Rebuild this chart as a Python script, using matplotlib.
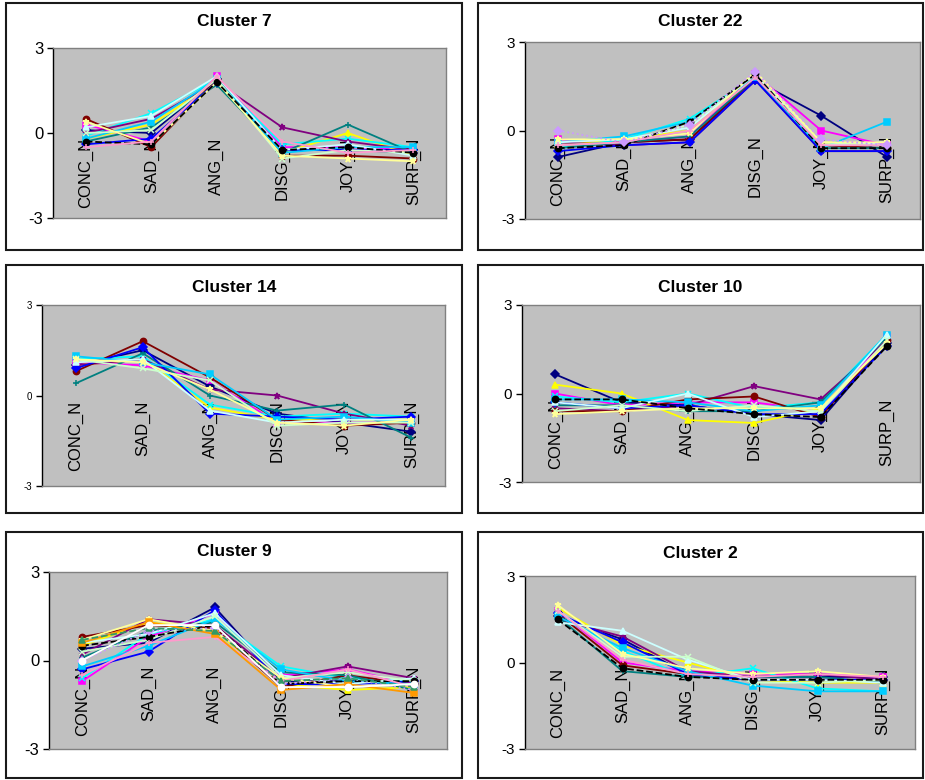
import matplotlib
matplotlib.use("Agg")
import matplotlib.pyplot as plt
from matplotlib.patches import Rectangle
from matplotlib.transforms import ScaledTranslation

plt.rcParams['font.family'] = ['Liberation Sans', 'DejaVu Sans']

categories = ["CONC_N", "SAD_N", "ANG_N", "DISG_N", "JOY_N", "SURP_N"]
titles = ["Cluster 7", "Cluster 22", "Cluster 14", "Cluster 10", "Cluster 9", "Cluster 2"]

# standardised scores, one row per case in the cluster
cluster7 = [
    [0.1, 0.0, 1.9, -0.6, -0.6, -0.7],
    [0.3, -0.3, 2.0, -0.5, -0.5, -0.6],
    [-0.2, 0.3, 1.8, -0.7, 0.0, -0.8],
    [-0.1, 0.7, 1.9, -0.4, -0.2, -0.5],
    [0.0, 0.5, 1.8, 0.2, -0.3, -0.6],
    [0.5, -0.5, 1.9, -0.8, -0.8, -0.9],
    [-0.3, 0.2, 1.7, -0.7, 0.3, -0.7],
    [-0.4, -0.2, 1.8, -0.6, -0.6, -0.6],
    [-0.2, 0.4, 1.9, -0.7, -0.5, -0.5],
    [0.2, 0.6, 2.0, -0.6, -0.4, -0.8],
    [0.0, 0.1, 1.9, -0.9, -0.6, -0.7],
    [0.4, -0.4, 1.8, -0.8, -0.9, -1.0],
    [-0.3, -0.4, 1.8, -0.6, -0.5, -0.7],
    [-0.5, -0.3, 2.0, -0.3, -0.7, -0.6],
]
cluster22 = [
    [-0.9, -0.4, -0.3, 1.7, 0.5, -0.9],
    [-0.3, -0.4, -0.2, 1.9, 0.0, -0.5],
    [-0.5, -0.3, 0.0, 1.8, -0.4, -0.5],
    [-0.6, -0.3, 0.4, 1.8, -0.5, -0.6],
    [-0.4, -0.5, -0.4, 1.7, -0.7, -0.7],
    [-0.5, -0.4, -0.3, 1.8, -0.5, -0.6],
    [-0.6, -0.4, -0.2, 1.8, -0.6, -0.6],
    [-0.7, -0.5, -0.4, 1.7, -0.7, -0.7],
    [-0.4, -0.2, 0.3, 1.8, -0.6, 0.3],
    [-0.4, -0.3, 0.1, 1.9, -0.5, -0.4],
    [-0.5, -0.4, 0.2, 1.9, -0.4, -0.5],
    [-0.3, -0.3, -0.1, 2.0, -0.4, -0.4],
    [-0.6, -0.5, 0.3, 1.9, -0.6, -0.6],
    [-0.5, -0.4, 0.0, 1.8, -0.5, -0.5],
    [0.0, -0.4, 0.2, 2.0, -0.3, -0.5],
]
cluster14 = [
    [1.0, 1.5, 0.3, -0.6, -0.9, -1.2],
    [1.1, 1.0, 0.5, -0.9, -0.9, -0.9],
    [1.0, 1.2, -0.4, -0.8, -0.8, -0.8],
    [1.2, 1.3, -0.3, -0.7, -0.6, -0.7],
    [1.0, 1.2, 0.2, 0.0, -0.6, -1.0],
    [0.8, 1.8, 0.6, -0.8, -1.0, -0.9],
    [0.4, 1.4, 0.0, -0.5, -0.3, -1.4],
    [0.9, 1.6, -0.6, -0.7, -0.8, -0.7],
    [1.3, 1.1, 0.7, -0.8, -0.7, -0.9],
    [1.1, 1.2, -0.5, -0.9, -0.8, -0.8],
    [1.2, 0.9, 0.5, -1.0, -0.9, -0.9],
    [1.2, 1.1, 0.2, -0.9, -1.0, -0.8],
]
cluster10 = [
    [0.65, -0.3, -0.4, -0.7, -0.9, 1.7],
    [0.0, -0.4, -0.3, -0.3, -0.6, 1.9],
    [0.3, 0.0, -0.9, -1.0, -0.5, 1.7],
    [-0.1, -0.3, 0.0, -0.5, -0.3, 2.0],
    [-0.5, -0.6, -0.4, 0.25, -0.2, 1.8],
    [-0.6, -0.6, -0.2, -0.1, -0.8, 1.8],
    [-0.4, -0.4, -0.6, -0.6, -0.3, 1.9],
    [-0.3, -0.5, -0.4, -0.7, -0.7, 1.6],
    [-0.2, -0.2, -0.3, -0.6, -0.4, 2.0],
    [-0.3, -0.5, 0.0, -0.8, -0.6, 2.0],
    [-0.6, -0.4, -0.6, -0.4, -0.6, 1.8],
    [-0.7, -0.6, -0.5, -0.5, -0.5, 1.7],
    [-0.2, -0.2, -0.5, -0.7, -0.8, 1.6],
]
cluster9 = [
    [0.4, 0.6, 1.8, -0.7, -0.7, -0.8],
    [-0.7, 0.8, 1.6, -0.5, -0.3, -0.8],
    [0.5, 1.3, 1.0, -0.8, -1.0, -0.9],
    [-0.6, 0.9, 1.4, -0.2, -0.6, -0.7],
    [0.2, 1.4, 1.2, -0.6, -0.2, -0.6],
    [0.8, 1.2, 1.1, -0.9, -0.5, -0.8],
    [0.1, 1.0, 1.3, -0.4, -0.5, -1.0],
    [-0.3, 0.3, 1.7, -0.8, -0.8, -0.7],
    [-0.2, 0.5, 1.4, -0.3, -0.7, -0.8],
    [0.6, 0.9, 1.6, -0.5, -0.8, -0.6],
    [0.3, 0.7, 1.5, -0.6, -0.4, -0.7],
    [0.7, 1.4, 1.0, -0.6, -0.9, -0.8],
    [0.5, 0.8, 1.2, -0.8, -0.7, -0.7],
    [-0.5, 0.6, 0.8, -0.7, -0.3, -0.9],
    [0.0, 1.0, 1.1, -0.8, -0.6, -1.0],
    [0.6, 1.3, 0.9, -1.0, -0.8, -1.1],
    [0.7, 1.1, 1.0, -0.7, -0.6, -0.9],
    [0.0, 1.2, 1.2, -0.9, -0.9, -0.8],
]
cluster2 = [
    [1.6, 0.8, -0.4, -0.5, -0.5, -0.5],
    [1.8, 0.0, -0.3, -0.4, -0.4, -0.5],
    [1.9, 0.6, 0.0, -0.6, -0.7, -0.7],
    [1.7, 0.4, -0.5, -0.2, -0.9, -1.0],
    [1.5, 0.9, -0.3, -0.5, -0.4, -0.6],
    [1.7, -0.1, -0.4, -0.6, -0.6, -0.6],
    [1.6, -0.3, -0.5, -0.5, -0.5, -0.7],
    [1.7, 0.7, -0.4, -0.6, -0.6, -0.6],
    [1.6, 0.5, -0.3, -0.8, -1.0, -1.0],
    [1.4, 1.1, 0.1, -0.6, -0.6, -0.7],
    [1.8, 0.2, 0.2, -0.7, -0.7, -0.6],
    [2.0, 0.3, -0.2, -0.4, -0.3, -0.5],
    [1.5, -0.2, -0.5, -0.6, -0.6, -0.6],
    [1.8, 0.1, -0.4, -0.5, -0.4, -0.5],
]
clusters = [cluster7, cluster22, cluster14, cluster10, cluster9, cluster2]

# spreadsheet-style series formatting cycle
colors = ['#000080', '#FF00FF', '#FFFF00', '#00FFFF', '#800080', '#800000',
          '#008080', '#0000FF', '#00CCFF', '#CCFFFF', '#CCFFCC', '#FFFF99',
          '#000000', '#FF99CC', '#CC99FF', '#FF9900', '#339966', '#FFFFFF']
markers = ['D', 's', '^', 'x', '*', 'o', '+', 'D', 's', '^', 'x', '*',
           'o', '+', 'D', 's', '^', 'o']
styles = ['-'] * 12 + ['--', '-', ':', '-', '--', '-']

W, H = 925, 780
# frame boxes and plot-area boxes in pixels: x0, y0, x1, y1 (top-left origin)
frames = [(6, 3, 462, 250), (478, 3, 923, 250),
          (6, 265, 462, 513), (478, 265, 923, 513),
          (6, 532, 462, 778), (478, 532, 923, 778)]
plot_boxes = [(53, 48, 446, 218), (525, 42, 920, 219),
              (42, 305, 445, 486), (522, 305, 920, 482),
              (49, 572, 447, 749), (525, 576, 915, 749)]
title_y = [22, 22, 287, 287, 552, 553]
ytick_size = [12, 11, 7, 11, 12, 11]

fig = plt.figure(figsize=(W / 100, H / 100), dpi=100)
fig.patch.set_facecolor('white')

for k in range(6):
    fx0, fy0, fx1, fy1 = frames[k]
    fig.add_artist(Rectangle((fx0 / W, 1 - fy1 / H), (fx1 - fx0) / W, (fy1 - fy0) / H,
                             transform=fig.transFigure, fill=False,
                             edgecolor='#1a1a1a', linewidth=1.5))
    fig.text((fx0 + fx1) / 2 / W, 1 - title_y[k] / H, titles[k],
             ha='center', va='center', fontsize=12.5, fontweight='bold')

    x0, y0, x1, y1 = plot_boxes[k]
    ax = fig.add_axes([x0 / W, 1 - y1 / H, (x1 - x0) / W, (y1 - y0) / H])
    ax.set_facecolor('#C0C0C0')
    ax.set_xlim(-0.5, 5.5)
    ax.set_ylim(-3, 3)
    ax.set_xticks([])
    ax.set_yticks([-3, 0, 3])
    ax.set_yticklabels(['-3', '0', '3'])
    ax.tick_params(axis='y', length=4, width=1, pad=3, labelsize=ytick_size[k])
    for side in ['top', 'right', 'bottom']:
        ax.spines[side].set_color('#808080')
        ax.spines[side].set_linewidth(1)
    ax.spines['left'].set_color('#000000')
    ax.spines['left'].set_linewidth(1)

    # category labels hang from the zero line, under the series
    offset = ax.transData + ScaledTranslation(0, -5 / 100, fig.dpi_scale_trans)
    for i, cat in enumerate(categories):
        ax.text(i, 0, cat, rotation=90, ha='center', va='top',
                fontsize=12, transform=offset, zorder=2)

    for j, row in enumerate(clusters[k]):
        ax.plot(range(len(categories)), row, color=colors[j % len(colors)],
                marker=markers[j % len(markers)], linestyle=styles[j % len(styles)],
                linewidth=1.3, markersize=4.5, markeredgewidth=1.1, zorder=3)

fig.savefig('out.png', dpi=100)
